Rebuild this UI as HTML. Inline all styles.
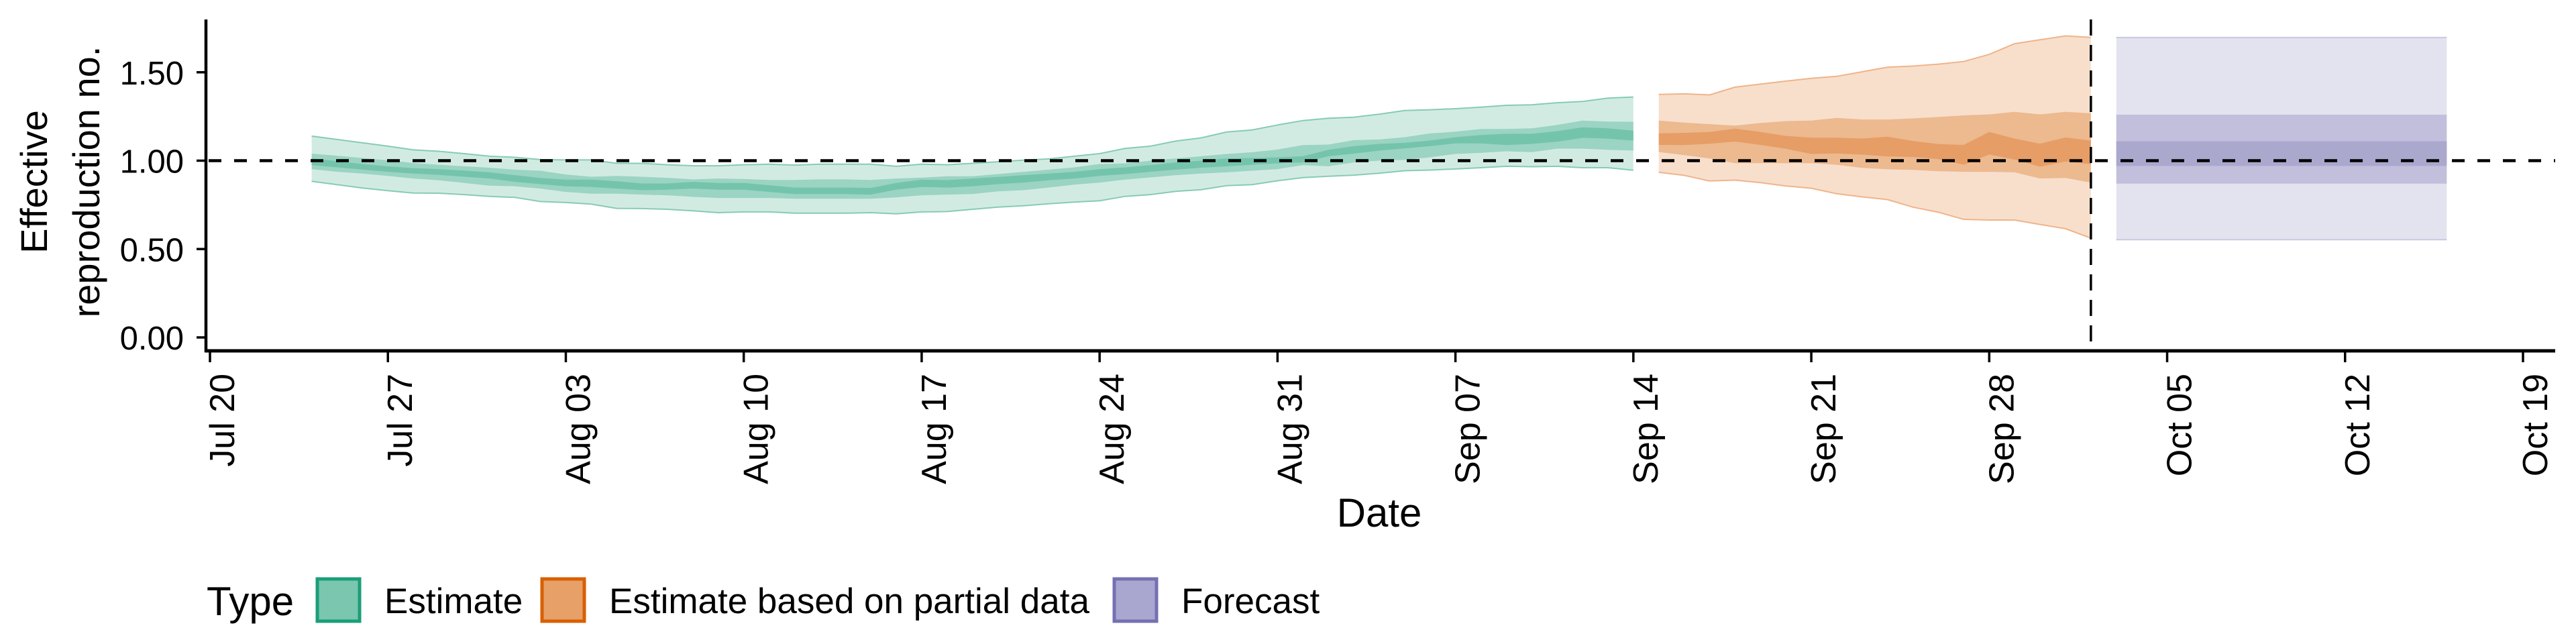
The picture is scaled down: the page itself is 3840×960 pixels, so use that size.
<!DOCTYPE html>
<html><head><meta charset="utf-8"><style>
html,body{margin:0;padding:0;background:#fff;}
svg{display:block;font-family:"Liberation Sans",Arial,sans-serif;}
</style></head><body>
<svg id="chart" width="3840" height="960" viewBox="0 0 3840 960" xmlns="http://www.w3.org/2000/svg">
<g id="bands"></g>
<g id="axes"></g>
<g id="legend"></g>
</svg>
<script>
// ---- data ----
const estStartDay = 4; // Jul 24 (days after Jul 20)
const estUpper90 = [1.139,1.120,1.101,1.082,1.061,1.053,1.040,1.025,1.019,1.006,1.004,1.004,0.985,0.985,0.977,0.971,0.971,0.977,0.980,0.975,0.980,0.980,0.980,0.968,0.980,0.977,
0.985,0.994,1.003,1.010,1.025,1.040,1.069,1.082,1.111,1.129,1.162,1.174,1.202,1.227,1.240,1.246,1.263,1.284,1.288,1.294,1.303,1.313,1.316,1.328,1.335,1.354,1.360];
const estLower90 = [0.883,0.864,0.845,0.830,0.817,0.816,0.808,0.798,0.792,0.769,0.763,0.754,0.730,0.729,0.725,0.716,0.706,0.710,0.710,0.703,0.703,0.703,0.706,0.699,0.710,0.712,
0.725,0.737,0.745,0.756,0.766,0.773,0.798,0.808,0.826,0.836,0.859,0.864,0.886,0.904,0.912,0.918,0.929,0.943,0.947,0.953,0.960,0.968,0.966,0.968,0.960,0.960,0.946];
const estUpper50 = [1.040,1.028,1.015,1.002,0.987,0.977,0.968,0.960,0.949,0.943,0.922,0.909,0.914,0.909,0.903,0.894,0.899,0.896,0.891,0.891,0.894,0.894,0.891,0.899,0.904,0.912,
0.912,0.924,0.937,0.949,0.962,0.981,0.985,1.000,1.013,1.025,1.038,1.048,1.063,1.088,1.091,1.116,1.120,1.133,1.154,1.164,1.179,1.179,1.183,1.202,1.227,1.221,1.220];
const estLower50 = [0.952,0.937,0.927,0.914,0.899,0.889,0.874,0.859,0.855,0.842,0.823,0.813,0.813,0.808,0.804,0.795,0.789,0.789,0.789,0.785,0.785,0.785,0.785,0.792,0.804,0.808,
0.811,0.826,0.833,0.848,0.864,0.876,0.893,0.905,0.918,0.927,0.934,0.943,0.952,0.975,0.968,0.990,1.000,1.005,1.019,1.038,1.044,1.053,1.048,1.068,1.068,1.061,1.057];
const estUpper20 = [1.013,0.997,0.981,0.968,0.958,0.952,0.944,0.934,0.918,0.902,0.893,0.893,0.884,0.871,0.871,0.880,0.874,0.874,0.861,0.848,0.848,0.848,0.846,0.874,0.893,0.890,
0.899,0.908,0.918,0.927,0.937,0.952,0.962,0.975,0.990,1.000,1.013,1.015,1.019,1.025,1.061,1.082,1.095,1.101,1.114,1.133,1.145,1.152,1.152,1.167,1.189,1.183,1.170];
const estLower20 = [0.975,0.962,0.949,0.937,0.927,0.919,0.909,0.899,0.880,0.867,0.855,0.851,0.842,0.833,0.836,0.842,0.836,0.836,0.823,0.811,0.811,0.811,0.808,0.836,0.851,0.848,
0.855,0.867,0.876,0.889,0.899,0.914,0.924,0.937,0.949,0.960,0.968,0.977,0.985,0.990,1.025,1.040,1.057,1.069,1.082,1.098,1.098,1.088,1.095,1.107,1.129,1.124,1.114];

const partStartDay = 57; // Sep 15
const partUpper90 = [1.375,1.378,1.372,1.416,1.433,1.450,1.466,1.477,1.503,1.529,1.535,1.546,1.561,1.601,1.662,1.684,1.706,1.697];
const partLower90 = [0.934,0.917,0.885,0.890,0.876,0.857,0.844,0.813,0.795,0.780,0.737,0.708,0.668,0.664,0.664,0.639,0.615,0.562];
const partUpper50 = [1.227,1.215,1.207,1.198,1.213,1.224,1.227,1.242,1.233,1.233,1.239,1.247,1.256,1.262,1.276,1.262,1.276,1.268];
const partLower50 = [1.049,1.031,1.012,0.986,0.986,0.986,0.986,0.977,0.959,0.951,0.948,0.940,0.937,0.937,0.934,0.899,0.902,0.876];
const partUpper20 = [1.155,1.157,1.162,1.181,1.162,1.140,1.130,1.130,1.125,1.136,1.111,1.094,1.089,1.162,1.125,1.096,1.131,1.114];
const partLower20 = [1.089,1.088,1.096,1.108,1.089,1.067,1.038,1.041,1.034,1.024,1.021,1.009,0.977,1.035,1.006,0.966,0.995,0.980];

const fcStartDay = 75, fcEndDay = 88; // Oct 3 - Oct 16
const fcBands = [[0.553,1.697],[0.87,1.26],[0.97,1.11]];
const forecastDateDay = 74; // Oct 2
const yTicks = [0, 0.5, 1, 1.5];
const yTickLabels = ["0.00","0.50","1.00","1.50"];
const xTickDays = [0,7,14,21,28,35,42,49,56,63,70,77,84,91];
const xTickLabels = ["Jul 20","Jul 27","Aug 03","Aug 10","Aug 17","Aug 24","Aug 31","Sep 07","Sep 14","Sep 21","Sep 28","Oct 05","Oct 12","Oct 19"];
const legendLabels = ["Estimate","Estimate based on partial data","Forecast"];

// ---- scales ----
const X = d => 313 + 37.89 * d;
const Y = v => 503 - 263.5 * v;
const NS = "http://www.w3.org/2000/svg";
function mk(tag, attrs, parent){ const e=document.createElementNS(NS,tag); for(const k in attrs) e.setAttribute(k,attrs[k]); parent.appendChild(e); return e; }
const bands = document.getElementById('bands'), axes = document.getElementById('axes'), legend = document.getElementById('legend');

function ribbon(start, up, lo, fill, name, edge){
  const pts=[]; up.forEach((v,i)=>pts.push(X(start+i).toFixed(1)+','+Y(v).toFixed(1)));
  for(let i=lo.length-1;i>=0;i--) pts.push(X(start+i).toFixed(1)+','+Y(lo[i]).toFixed(1));
  const p = mk('polygon',{points:pts.join(' '),fill:fill},bands);
  
  
  if(edge){
    [up,lo].forEach(arr=>{
      const l = mk('polyline',{points:arr.map((v,i)=>X(start+i).toFixed(1)+','+Y(v).toFixed(1)).join(' '),fill:'none',stroke:edge,'stroke-width':2},bands);
      
      
    });
  }
}
ribbon(estStartDay, estUpper90, estLower90, '#d2ebe2', 'estimate-90-ribbon', '#86ccb3');
ribbon(estStartDay, estUpper50, estLower50, '#9bd4c2', 'estimate-50-ribbon');
ribbon(estStartDay, estUpper20, estLower20, '#74c4ab', 'estimate-20-ribbon');
ribbon(partStartDay, partUpper90, partLower90, '#f7dfcc', 'partial-90-ribbon', '#efb48a');
ribbon(partStartDay, partUpper50, partLower50, '#edb98f', 'partial-50-ribbon');
ribbon(partStartDay, partUpper20, partLower20, '#e69d66', 'partial-20-ribbon');
const fcFills = ['#e3e3ef','#c2bfdc','#aba8ce'];
fcBands.forEach((b,i)=>{
  const r = mk('rect',{x:X(fcStartDay),y:Y(b[1]),width:X(fcEndDay)-X(fcStartDay),height:Y(b[0])-Y(b[1]),fill:fcFills[i]},bands);
  
  
});
{
  const t = mk('line',{x1:X(fcStartDay),x2:X(fcEndDay),y1:Y(fcBands[0][1]),y2:Y(fcBands[0][1]),stroke:'#c9c7e2','stroke-width':2},bands);
   
  const b = mk('line',{x1:X(fcStartDay),x2:X(fcEndDay),y1:Y(fcBands[0][0]),y2:Y(fcBands[0][0]),stroke:'#c9c7e2','stroke-width':2},bands);
   
}

// reference lines
const h = mk('line',{x1:311,x2:3809,y1:Y(1),y2:Y(1),stroke:'#000','stroke-width':4.5,'stroke-dasharray':'19 19'},axes);
 
const v = mk('line',{x1:X(forecastDateDay),x2:X(forecastDateDay),y1:29,y2:521,stroke:'#000','stroke-width':3.5,'stroke-dasharray':'24 14'},axes);
 

// axes
const ya = mk('line',{x1:307,x2:307,y1:29,y2:525,stroke:'#000','stroke-width':4.5},axes);
 
const xa = mk('line',{x1:305,x2:3809,y1:523,y2:523,stroke:'#000','stroke-width':5},axes);
 
yTicks.forEach((t,i)=>{
  const l = mk('line',{x1:293,x2:307,y1:Y(t),y2:Y(t),stroke:'#000','stroke-width':3.5},axes);
   
  const tx = mk('text',{x:274,y:Y(t)+18,'text-anchor':'end','font-size':49,fill:'#000'},axes);
  tx.textContent = yTickLabels[i];
   
});
xTickDays.forEach((d,i)=>{
  const l = mk('line',{x1:X(d),x2:X(d),y1:523,y2:540,stroke:'#000','stroke-width':3.5},axes);
   
  const tx = mk('text',{x:0,y:0,transform:`translate(${X(d)+36},557) rotate(-90)`,'text-anchor':'end','font-size':52,fill:'#000'},axes);
  tx.textContent = xTickLabels[i];
   
});
const xt = mk('text',{x:2056,y:785,'text-anchor':'middle','font-size':60,fill:'#000'},axes);
xt.textContent='Date';
 
const yt1 = mk('text',{x:0,y:0,transform:'translate(70,271) rotate(-90)','text-anchor':'middle','font-size':56,fill:'#000'},axes);
yt1.textContent='Effective';
 
const yt2 = mk('text',{x:0,y:0,transform:'translate(148,271) rotate(-90)','text-anchor':'middle','font-size':56,fill:'#000'},axes);
yt2.textContent='reproduction no.';
 

// legend
const lt = mk('text',{x:308,y:917,'font-size':60,fill:'#000'},legend);
lt.textContent='Type';
 
const keyX=[473,808,1661], labX=[573,908,1761];
const keyFill=['#7ac6ae','#e6a068','#a9a7cf'], keyStroke=['#1b9e77','#d95f02','#7570b3'];
legendLabels.forEach((s,i)=>{
  const r = mk('rect',{x:keyX[i],y:863,width:63,height:63,fill:keyFill[i],stroke:keyStroke[i],'stroke-width':5},legend);
   
  const t = mk('text',{x:labX[i],y:914,'font-size':53,fill:'#000'},legend);
  t.textContent=s;
   
});
</script>
</body></html>
